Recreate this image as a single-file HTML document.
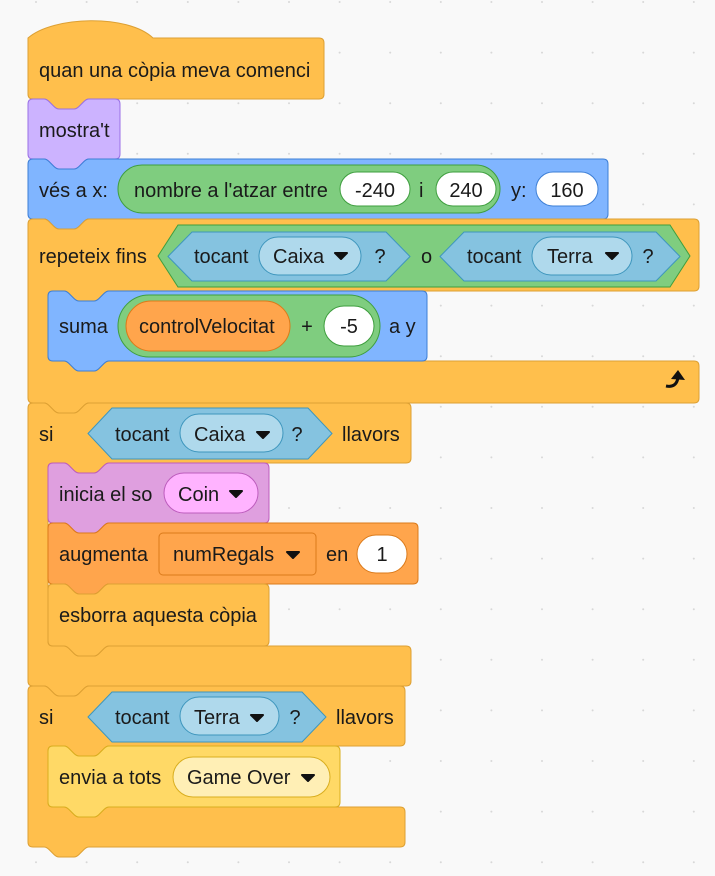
<!DOCTYPE html>
<html><head><meta charset="utf-8"><style>
html,body{margin:0;padding:0;background:#F9F9F9;}
svg{display:block;}
text{font-family:"Liberation Sans",sans-serif;font-size:20px;fill:#1a1a1a;}
</style></head><body>
<svg id="s" width="715" height="876" xmlns="http://www.w3.org/2000/svg"></svg>
<script>
const S=1.25, r=5, NO=16, NW=45;
function nR(){const s=S;return `c${2*s},0 ${3*s},${s} ${4*s},${2*s} l${4*s},${4*s} c${s},${s} ${2*s},${2*s} ${4*s},${2*s} h${12*s} c${2*s},0 ${3*s},${-s} ${4*s},${-2*s} l${4*s},${-4*s} c${s},${-s} ${2*s},${-2*s} ${4*s},${-2*s} `;}
function nL(){const s=S;return `c${-2*s},0 ${-3*s},${s} ${-4*s},${2*s} l${-4*s},${4*s} c${-s},${s} ${-2*s},${2*s} ${-4*s},${2*s} h${-12*s} c${-2*s},0 ${-3*s},${-s} ${-4*s},${-2*s} l${-4*s},${-4*s} c${-s},${-s} ${-2*s},${-2*s} ${-4*s},${-2*s} `;}
let out='';
for(let gx=36;gx<715;gx+=50.6)for(let gy=2;gy<876;gy+=50.6)out+=`<circle cx="${gx}" cy="${gy}" r="1" fill="#d8d8d8"/>`;
function p(d,f,st){out+=`<path d="${d}" fill="${f}" stroke="${st}" stroke-width="1"/>`;}
function stack(x,y,w,h,f,st){
 p(`M${x},${y+r} Q${x},${y} ${x+r},${y} H${x+NO} ${nR()} H${x+w-r} Q${x+w},${y} ${x+w},${y+r} V${y+h-r} Q${x+w},${y+h} ${x+w-r},${y+h} H${x+NO+NW} ${nL()} H${x+r} Q${x},${y+h} ${x},${y+h-r} Z`,f,st);}
function hat(x,y,w,h,f,st){
 p(`M${x},${y} C${x+25},${y-22} ${x+100},${y-24} ${x+125},${y} H${x+w-r} Q${x+w},${y} ${x+w},${y+r} V${y+h-r} Q${x+w},${y+h} ${x+w-r},${y+h} H${x+NO+NW} ${nL()} H${x+r} Q${x},${y+h} ${x},${y+h-r} Z`,f,st);}
function cblk(x,y,w,a,inn,b,f,st){
 const ix=x+20, y1=y+a, y2=y1+inn, y3=y2+b;
 p(`M${x},${y+r} Q${x},${y} ${x+r},${y} H${x+NO} ${nR()} H${x+w-r} Q${x+w},${y} ${x+w},${y+r} V${y1-r} Q${x+w},${y1} ${x+w-r},${y1} H${ix+NO+NW} ${nL()} H${ix+r} Q${ix},${y1} ${ix},${y1+r} V${y2-r} Q${ix},${y2} ${ix+r},${y2} H${ix+NO} ${nR()} H${x+w-r} Q${x+w},${y2} ${x+w},${y2+r} V${y3-r} Q${x+w},${y3} ${x+w-r},${y3} H${x+NO+NW} ${nL()} H${x+r} Q${x},${y3} ${x},${y3-r} Z`,f,st);}
function hex(x,y,w,h,d,f,st){p(`M${x},${y+h/2} L${x+d},${y} H${x+w-d} L${x+w},${y+h/2} L${x+w-d},${y+h} H${x+d} Z`,f,st);}
function rr(x,y,w,h,rad,f,st){out+=`<rect x="${x}" y="${y}" width="${w}" height="${h}" rx="${rad}" fill="${f}" stroke="${st}" stroke-width="1"/>`;}
function t(x,y,s,anchor){out+=`<text x="${x}" y="${y}"${anchor?' text-anchor="middle"':''}>${s}</text>`;}
function arr(x,y){out+=`<path d="M${x-6},${y-3} H${x+6} L${x},${y+3} Z" fill="#111" stroke="#111" stroke-width="2" stroke-linejoin="round"/>`;}

const EV='#FFBF4C',EVs='#DDA033',BL='#80B5FF',BLs='#3D7FD6',GR='#7FCD7F',GRs='#3E9E3E',SE='#85C3E0',SEs='#3E96BD',SEd='#AFD9EC',OR='#FFA54C',ORs='#DB7A1A';

hat(28,38,296,61,EV,EVs); t(39,77,"quan una còpia meva comenci");
stack(28,99,92,60,'#CCB3FF','#9A70E6'); t(39,137,"mostra't");
stack(28,159,580,60,BL,BLs); t(39,197,"vés a x:");
rr(118,165,382,48,24,GR,GRs); t(134,197,"nombre a l'atzar entre");
rr(340,172,70,34,17,'#fff',GRs); t(375,197,"-240",1);
t(419,197,"i");
rr(436,172,60,34,17,'#fff',GRs); t(466,197,"240",1);
t(511,197,"y:");
rr(536,172,62,34,17,'#fff',BLs); t(567,197,"160",1);

cblk(28,219,671,72,70,42,EV,EVs); t(39,263,"repeteix fins");
hex(158,225,532,62,20,GR,GRs);
hex(168,232,242,49,24,SE,SEs); t(194,263,"tocant");
rr(259,237,102,38,19,SEd,SEs); t(273,263,"Caixa"); arr(341,256); t(380,263,"?",1);
t(421,263,"o");
hex(440,232,240,49,24,SE,SEs); t(467,263,"tocant");
rr(532,237,100,38,19,SEd,SEs); t(547,263,"Terra"); arr(612,256); t(648,263,"?",1);
out+=`<path d="M666,386 q10,2 12,-8" fill="none" stroke="#111" stroke-width="3"/><path d="M671,379 L678,370 L685,380 Z" fill="#111"/>`;

stack(48,291,379,70,BL,BLs); t(59,333,"suma");
rr(118,295,262,62,31,GR,GRs);
rr(126,301,164,50,25,OR,ORs); t(139,333,"controlVelocitat");
t(307,333,"+",1);
rr(324,306,50,40,20,'#fff',GRs); t(349,333,"-5",1);
t(389,333,"a y");

cblk(28,403,383,60,183,40,EV,EVs); t(39,441,"si");
hex(88,408,244,51,24,SE,SEs); t(115,441,"tocant");
rr(180,414,103,38,19,SEd,SEs); t(194,441,"Caixa"); arr(263,435); t(297,441,"?",1);
t(342,441,"llavors");
stack(48,463,221,60,'#DF9FDF','#BD5CBD'); t(59,501,"inicia el so");
rr(164,473,94,40,20,'#FFB3FF','#BD5CBD'); t(178,501,"Coin"); arr(236,494);
stack(48,523,370,61,OR,ORs); t(59,561,"augmenta");
rr(159,533,157,42,4,OR,ORs); t(173,561,"numRegals"); arr(293,555); t(326,561,"en");
rr(357,535,50,38,19,'#fff',ORs); t(382,561,"1",1);
stack(48,584,221,62,EV,EVs); t(59,622,"esborra aquesta còpia");

cblk(28,686,377,60,61,40,EV,EVs); t(39,724,"si");
hex(88,692,238,50,24,SE,SEs); t(115,724,"tocant");
rr(180,697,99,38,19,SEd,SEs); t(194,724,"Terra"); arr(257,718); t(295,724,"?",1);
t(336,724,"llavors");
stack(48,746,292,61,'#FFD966','#D9AE1F'); t(59,784,"envia a tots");
rr(173,757,157,40,20,'#FFEFB5','#D9AE1F'); t(187,784,"Game Over"); arr(308,778);

document.getElementById('s').innerHTML=out;
</script>
</body></html>
